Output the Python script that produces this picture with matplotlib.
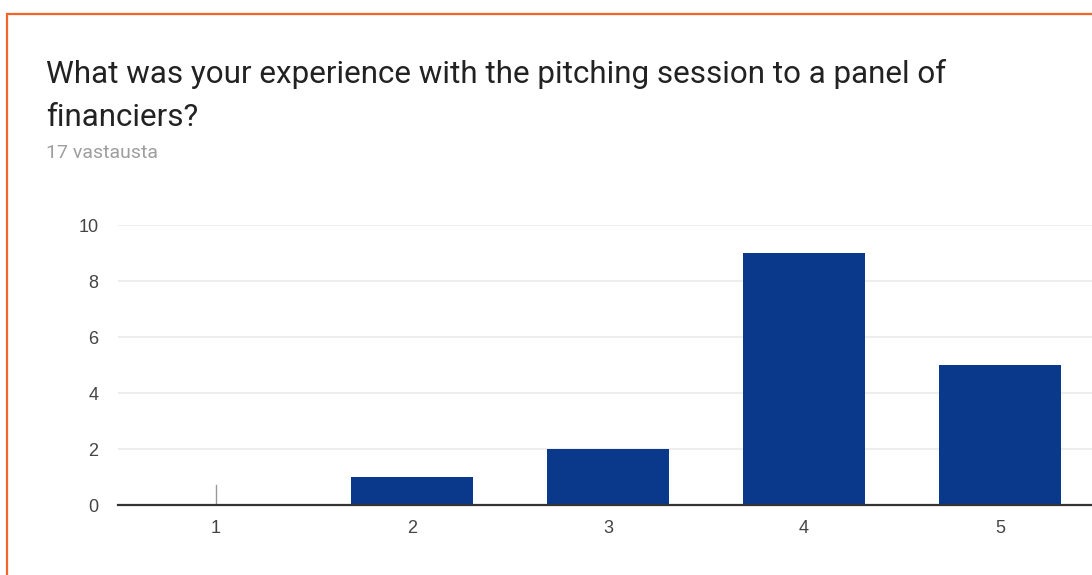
import matplotlib
matplotlib.use("Agg")
import matplotlib.pyplot as plt
from matplotlib.patches import Rectangle

categories = ["1", "2", "3", "4", "5"]
counts = [0, 1, 2, 9, 5]
yticks = [0, 2, 4, 6, 8, 10]
title_lines = ["What was your experience with the pitching session to a panel of",
               "financiers?"]
subtitle = "17 vastausta"

W, H = 1092, 575
fig = plt.figure(figsize=(W / 100, H / 100), dpi=100)
plt.rcParams['font.family'] = ['Roboto', 'DejaVu Sans']

# orange card border
fig.patches.append(Rectangle((7 / W, -0.1), 1.2, 1 - 14 / H + 0.1,
                             transform=fig.transFigure, fill=False,
                             edgecolor="#f4632a", linewidth=1.6))

for i, line in enumerate(title_lines):
    fig.text(46 / W, 1 - (83 + 43 * i) / H, line, fontsize=22.6, color="#222222",
             ha="left", va="baseline")
fig.text(46 / W, 1 - 158 / H, subtitle, fontsize=14, color="#9e9e9e",
         ha="left", va="baseline")

left, right = 118 / W, 1098 / W
bottom, top = 1 - 505 / H, 1 - 225 / H
ax = fig.add_axes([left, bottom, right - left, top - bottom])
x = list(range(len(categories)))
ax.bar(x, counts, width=0.62, color="#0a398c", zorder=3)
ax.set_xlim(-0.5, len(categories) - 0.5)
ax.set_ylim(0, 10)
ax.set_yticks(yticks)
ax.set_xticks(x)
ax.set_xticklabels(categories)
ax.grid(axis="y", color="#ebebeb", linewidth=1.2, zorder=0)
for s in ["top", "right", "left"]:
    ax.spines[s].set_visible(False)
ax.spines["bottom"].set_color("#333333")
ax.spines["bottom"].set_linewidth(1.6)
ax.spines["bottom"].set_zorder(4)
ax.tick_params(axis="both", length=0, labelsize=13, colors="#444444")
for lab in ax.get_xticklabels() + ax.get_yticklabels():
    lab.set_family(["Liberation Sans", "DejaVu Sans"])
ax.tick_params(axis="y", pad=14)
ax.tick_params(axis="x", pad=11)
# small marker line at zero-valued category
ax.axvline(x[0], ymin=0, ymax=0.07, color="#999999", linewidth=1, zorder=3)

fig.savefig("out.png", dpi=100)
